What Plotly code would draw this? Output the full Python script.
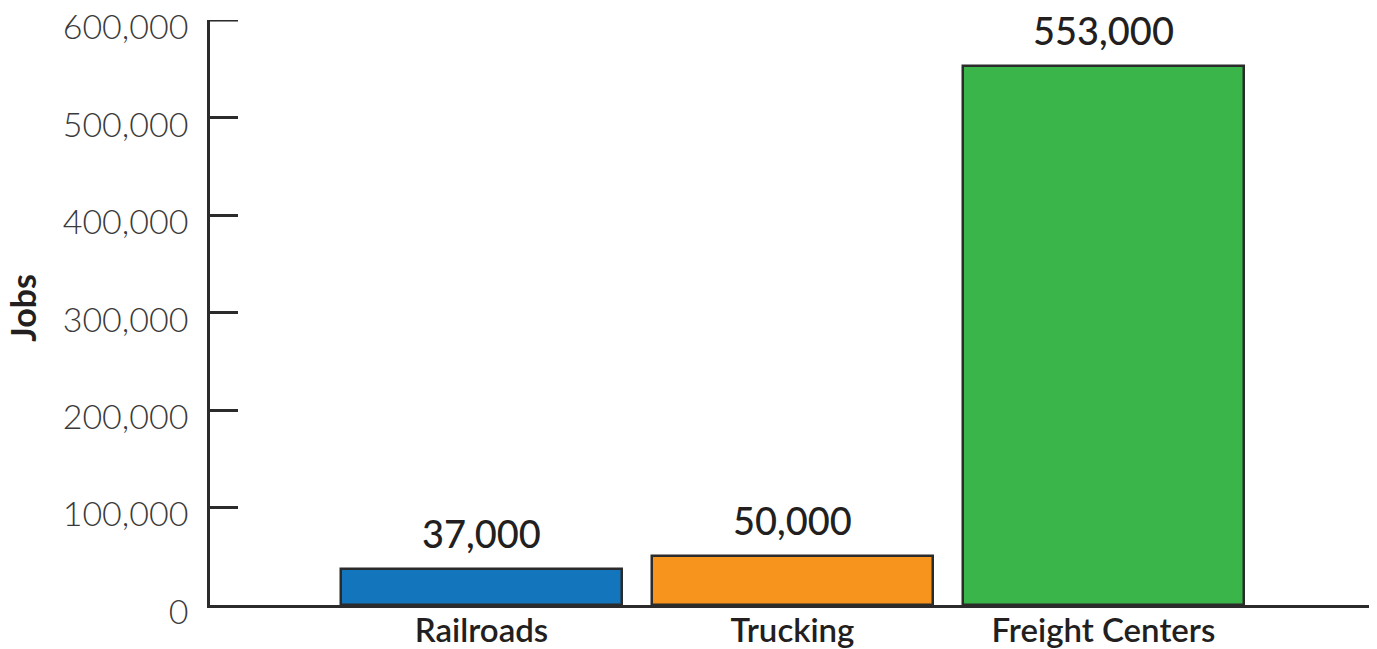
import plotly.graph_objects as go

categories = ["Railroads", "Trucking", "Freight Centers"]
jobs = [37000, 50000, 553000]
bar_colors = ["#1375BC", "#F7941D", "#3AB54A"]
value_labels = ["37,000", "50,000", "553,000"]
y_ticks = [0, 100000, 200000, 300000, 400000, 500000, 600000]
y_tick_labels = ["0", "100,000", "200,000", "300,000", "400,000", "500,000", "600,000"]
y_title = "Jobs"

fig = go.Figure()
fig.add_trace(go.Bar(
    x=categories, y=jobs,
    marker=dict(color=bar_colors, line=dict(color="#2b2b2b", width=2.5)),
    width=0.9035,
    hoverinfo="skip",
))

for c, v, t in zip(categories, jobs, value_labels):
    fig.add_annotation(
        x=c, y=v, text=t, showarrow=False, yanchor="bottom", yshift=11,
        font=dict(family="Lato", size=38, color="#231f20", weight=500),
    )

# y axis title as rotated annotation (placed in the left margin)
fig.add_annotation(
    xref="paper", yref="paper", x=-0.1607, y=0.508, text=y_title, textangle=-90,
    showarrow=False, xanchor="center", yanchor="middle",
    font=dict(family="Lato", size=34, color="#231f20", weight=700),
)

# small end tick at right end of x axis
fig.add_shape(type="line", xref="paper", yref="paper", x0=1, x1=1, y0=0, y1=0.022,
              line=dict(color="#2b2b2b", width=2.5))
# top y tick (Plotly drops the inside tick at the range end)
fig.add_shape(type="line", xref="paper", yref="y", x0=0, x1=28 / 1164,
              y0=y_ticks[-1], y1=y_ticks[-1], line=dict(color="#2b2b2b", width=2.5))

# page body has an 8px default margin, so margins are compensated
fig.update_layout(
    width=1377, height=649,
    margin=dict(l=202, r=11, t=12, b=52),
    paper_bgcolor="white", plot_bgcolor="white",
    showlegend=False,
    bargap=0,
    xaxis=dict(
        range=[-0.873, 2.870],
        showline=True, linecolor="#2b2b2b", linewidth=2.5,
        showgrid=False, zeroline=False, ticks="",
        tickfont=dict(family="Lato", size=33, color="#231f20", weight=600),
        ticklabelstandoff=-5,
        automargin=False,
        fixedrange=True,
    ),
    yaxis=dict(
        range=[0, 600300],
        tickvals=y_ticks, ticktext=y_tick_labels,
        showline=True, linecolor="#2b2b2b", linewidth=2.5,
        ticks="inside", ticklen=28, tickwidth=2.5, tickcolor="#2b2b2b",
        showgrid=False, zeroline=False,
        tickfont=dict(family="Lato", size=34, color="#3a3a3a", weight=300),
        ticklabelshift=7, ticklabelstandoff=12,
        ticklabeloverflow="allow",
        automargin=False,
        fixedrange=True,
    ),
)

fig.write_html("out.html")
